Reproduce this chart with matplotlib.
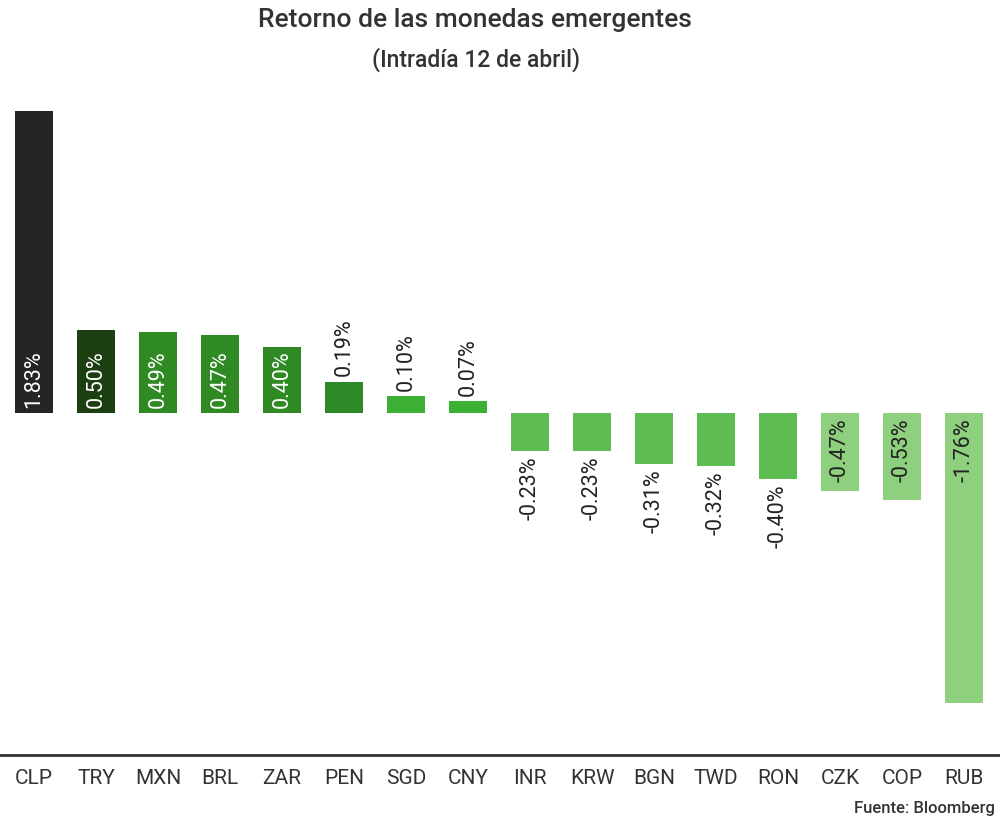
import matplotlib
matplotlib.use("Agg")
import matplotlib.pyplot as plt

plt.rcParams['font.family'] = ['Roboto', 'DejaVu Sans']

currencies = ["CLP", "TRY", "MXN", "BRL", "ZAR", "PEN", "SGD", "CNY",
              "INR", "KRW", "BGN", "TWD", "RON", "CZK", "COP", "RUB"]
returns = [1.83, 0.50, 0.49, 0.47, 0.40, 0.19, 0.10, 0.07,
           -0.23, -0.23, -0.31, -0.32, -0.40, -0.47, -0.53, -1.76]
bar_colors = ["#252525", "#1b3f10", "#2f8a24", "#2f8a24", "#2f8a24", "#2e8a28",
              "#3cb035", "#3cb035", "#5dbd52", "#5dbd52", "#5dbd52", "#5dbd52",
              "#5dbd52", "#8ed07e", "#8ed07e", "#8ed07e"]
title = "Retorno de las monedas emergentes"
subtitle = "(Intradía 12 de abril)"
source = "Fuente: Bloomberg"

fig = plt.figure(figsize=(10, 8.35), dpi=100)
ax = fig.add_axes([0.0, 80 / 835, 1.0, 655 / 835])

x = list(range(len(currencies)))
ax.bar(x, returns, width=0.61, color=bar_colors, edgecolor="none")
ax.set_xlim(-0.548, 15.58)
ax.set_ylim(-2.073, 1.897)

for xi, v in zip(x, returns):
    lab = f"{v:.2f}%"
    if v >= 0:
        if v >= 0.35:
            ax.annotate(lab, (xi, 0), xytext=(0, 3.5), textcoords="offset points",
                        rotation=90, ha="center", va="bottom", fontsize=15.5,
                        color="white")
        else:
            ax.annotate(lab, (xi, v), xytext=(0, 4), textcoords="offset points",
                        rotation=90, ha="center", va="bottom", fontsize=15.5,
                        color="#222222")
    else:
        if v <= -0.45:
            ax.annotate(lab, (xi, 0), xytext=(0, -4), textcoords="offset points",
                        rotation=90, ha="center", va="top", fontsize=15.5,
                        color="#222222")
        else:
            ax.annotate(lab, (xi, v), xytext=(0, -4), textcoords="offset points",
                        rotation=90, ha="center", va="top", fontsize=15.5,
                        color="#222222")

ax.set_xticks(x)
ax.set_xticklabels(currencies, fontsize=15, color="#333333")
ax.tick_params(axis="x", length=0, pad=10)
ax.set_yticks([])
for s in ["top", "right", "left"]:
    ax.spines[s].set_visible(False)
ax.spines["bottom"].set_color("#333333")
ax.spines["bottom"].set_linewidth(2)

fig.text(0.475, 1 - 20 / 835, title, ha="center", va="center",
         fontsize=19, fontweight="medium", color="#333333")
fig.text(0.4765, 1 - 60 / 835, subtitle, ha="center", va="center",
         fontsize=16.5, fontweight="medium", color="#333333")
fig.text(0.995, 1 - 808 / 835, source, ha="right", va="center",
         fontsize=12, fontweight="medium", color="#333333")

fig.savefig("out.png", dpi=100, facecolor="white")
